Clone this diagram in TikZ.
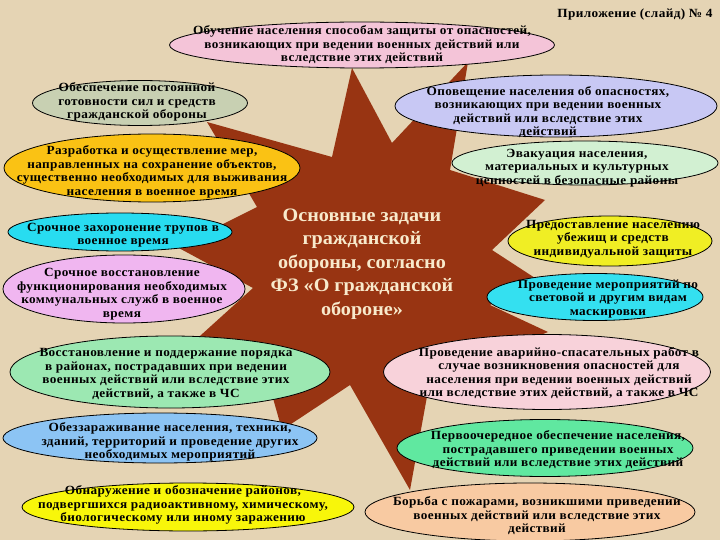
\documentclass[tikz,border=0pt]{standalone}
\usepackage{fontspec}
\setmainfont{Liberation Serif}[FakeStretch=1.06]
\newfontfamily\taskfont{Liberation Serif}[FakeStretch=1.06, LetterSpace=3]
\usetikzlibrary{shapes.geometric}
\definecolor{parchment}{RGB}{229,212,180}
\definecolor{starbrown}{RGB}{152,52,18}
\definecolor{startext}{RGB}{248,234,204}
\definecolor{pinktop}{RGB}{244,196,216}
\definecolor{sage}{RGB}{200,208,178}
\definecolor{gold}{RGB}{250,194,20}
\definecolor{cyanA}{RGB}{40,220,240}
\definecolor{violet}{RGB}{240,182,240}
\definecolor{mint}{RGB}{156,232,178}
\definecolor{skyblue}{RGB}{140,196,244}
\definecolor{lemon}{RGB}{248,246,10}
\definecolor{lavender}{RGB}{200,200,244}
\definecolor{palegreen}{RGB}{210,240,210}
\definecolor{lemonB}{RGB}{240,238,36}
\definecolor{cyanB}{RGB}{52,224,240}
\definecolor{pinkB}{RGB}{248,210,218}
\definecolor{greenB}{RGB}{96,232,160}
\definecolor{peach}{RGB}{248,202,162}
\tikzset{
  task/.style={ellipse, draw=black, line width=0.8pt, inner sep=0pt},
  tasktext/.style={align=center, inner sep=0pt,
    font=\taskfont\fontsize{12.5}{13.5}\selectfont\bfseries},
  goaltext/.style={align=center, inner sep=0pt, text=startext,
    font=\fontsize{19}{23.5}\selectfont\bfseries}
}

\begin{document}
\begin{tikzpicture}[x=1pt, y=-1pt]
    % page
    \useasboundingbox (0,0) rectangle (720,540);
    \fill[parchment] (0,0) rectangle (720,540);
    % star behind the ellipses
    \fill[starbrown] (352,68) -- (392,143) -- (468,62) -- (450,170)
        -- (545,200) -- (492,250) -- (535,278) -- (490,305)
        -- (548,332) -- (430,380) -- (410,490) -- (350,385)
        -- (282,430) -- (265,370) -- (190,345) -- (253,288)
        -- (177,247) -- (257,207) -- (207,122) -- (332,157) -- cycle;
    % left column
    \node[task, fill=pinktop, minimum width=385pt, minimum height=46pt] (teach_ell) at (362,45) {};
    \node[task, fill=sage, minimum width=215pt, minimum height=45pt] (ready_ell) at (140,103) {};
    \node[task, fill=gold, minimum width=296pt, minimum height=68pt] (keep_ell) at (152,168) {};
    \node[task, fill=cyanA, minimum width=224pt, minimum height=38pt] (burial_ell) at (120,232) {};
    \node[task, fill=violet, minimum width=242pt, minimum height=68pt] (utility_ell) at (124,289) {};
    \node[task, fill=mint, minimum width=320pt, minimum height=72pt] (order_ell) at (170,372) {};
    \node[task, fill=skyblue, minimum width=314pt, minimum height=50pt] (decon_ell) at (160,438) {};
    \node[task, fill=lemon, minimum width=332pt, minimum height=48pt] (detect_ell) at (188,507) {};
    % right column
    \node[task, fill=lavender, minimum width=322pt, minimum height=62pt] (warn_ell) at (556,106) {};
    \node[task, fill=palegreen, minimum width=266pt, minimum height=44pt] (evac_ell) at (585,163) {};
    \node[task, fill=lemonB, minimum width=204pt, minimum height=50pt] (shelter_ell) at (610,241) {};
    \node[task, fill=cyanB, minimum width=216pt, minimum height=47pt] (mask_ell) at (595,297) {};
    \node[task, fill=pinkB, minimum width=327pt, minimum height=75pt] (rescue_ell) at (547,372) {};
    \node[task, fill=greenB, minimum width=296pt, minimum height=57pt] (supply_ell) at (545,448) {};
    \node[task, fill=peach, minimum width=330pt, minimum height=58pt] (fire_ell) at (530,512) {};
    % texts
    \node[tasktext] (annex_txt) at (635,14) {Приложение (слайд) № 4};
    \node[tasktext] (teach_txt) at (362,45) {Обучение населения способам защиты от опасностей,\\
        возникающих при ведении военных  действий или\\ вследствие этих действий};
    \node[tasktext] (ready_txt) at (137,102) {Обеспечение постоянной\\ готовности сил и средств\\
        гражданской обороны};
    \node[tasktext] (keep_txt) at (152,172) {Разработка и осуществление мер,\\
        направленных на сохранение объектов,\\ существенно необходимых для выживания\\
        населения в военное время};
    \node[tasktext] (burial_txt) at (123,235) {Срочное захоронение трупов в\\ военное время};
    \node[tasktext] (utility_txt) at (122,294) {Срочное восстановление\\
        функционирования необходимых\\ коммунальных служб в военное\\ время};
    \node[tasktext] (order_txt) at (166,374) {Восстановление и поддержание порядка\\
        в районах, пострадавших при ведении\\ военных действий или вследствие этих\\
        действий, а также в ЧС};
    \node[tasktext] (decon_txt) at (170,442) {Обеззараживание населения, техники,\\
        зданий, территорий и проведение других\\ необходимых мероприятий};
    \node[tasktext] (detect_txt) at (183,505) {Обнаружение и обозначение районов,\\
        подвергшихся радиоактивному, химическому,\\ биологическому или иному заражению};
    \node[tasktext] (warn_txt) at (548,112) {Оповещение населения об опасностях,\\
        возникающих при ведении военных\\ действий или вследствие этих\\ действий};
    \node[tasktext] (evac_txt) at (577,168) {Эвакуация населения,\\ материальных и культурных\\
        ценностей в безопасные районы};
    \node[tasktext] (shelter_txt) at (613,239) {Предоставление населению\\ убежищ и средств\\
        индивидуальной защиты};
    \node[tasktext] (mask_txt) at (608,299) {Проведение мероприятий по\\ световой и другим видам\\
        маскировки};
    \node[tasktext] (rescue_txt) at (559,373) {Проведение аварийно-спасательных работ в\\
        случае возникновения опасностей для\\ населения при ведении военных действий\\
        или вследствие этих действий, а также в ЧС};
    \node[tasktext] (supply_txt) at (558,450) {Первоочередное обеспечение населения,\\
        пострадавшего приведении военных\\ действий или вследствие этих действий};
    \node[tasktext] (fire_txt) at (537,516) {Борьба с пожарами, возникшими приведении\\
        военных действий или вследствие этих\\ действий};
    % centre
    \node[goaltext] (goal_txt) at (362,264) {Основные задачи\\ гражданской\\ обороны, согласно\\
        ФЗ «О гражданской\\ обороне»};
\end{tikzpicture}
\end{document}
